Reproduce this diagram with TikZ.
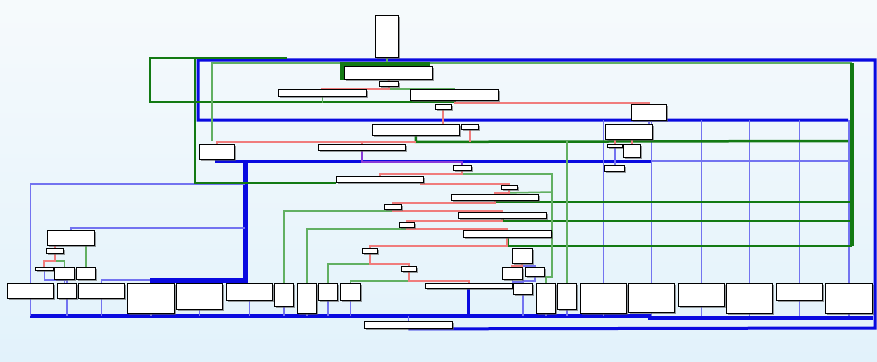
\documentclass[tikz,border=0pt]{standalone}
\usetikzlibrary{shadows}
\definecolor{dblue}{HTML}{0A0AE0}
\definecolor{lblue}{HTML}{7373F0}
\definecolor{dgreen}{HTML}{137A13}
\definecolor{lgreen}{HTML}{62B062}
\definecolor{pinkred}{HTML}{F07C7C}
\definecolor{purp}{HTML}{8A3AD8}
\definecolor{bgtop}{HTML}{F6FAFC}
\definecolor{bgbot}{HTML}{E2F2FB}
\pgfdeclarelayer{bg}
\pgfdeclarelayer{edges}
\pgfsetlayers{bg,edges,main}
\begin{document}
\begin{tikzpicture}[x=1pt,y=1pt,yscale=-1,
  blk/.style={draw=black,fill=white,line width=0.9pt,inner sep=0pt,anchor=north west,
    drop shadow={shadow xshift=2pt,shadow yshift=-2pt,fill=black!65,opacity=0.6}},
  jmp/.style={draw=dblue,line width=3pt},
  jmpthin/.style={draw=lblue,line width=1.6pt},
  yes/.style={draw=dgreen,line width=2.5pt},
  yesthin/.style={draw=lgreen,line width=1.5pt},
  no/.style={draw=pinkred,line width=2pt}]

%background
\begin{pgfonlayer}{bg}
\shade[top color=bgtop,bottom color=bgbot] (0,0) rectangle (877,361);
\end{pgfonlayer}
\useasboundingbox (0,0) rectangle (877,361);
\coordinate (bus) at (0,316);
\coordinate (top) at (0,120);

%Shape: selected block glow
\fill[dgreen] (340,62) rectangle (430,80);

%Blocks: top part
\node[blk,minimum width=23pt,minimum height=42pt] (entry) at (375,15) {};
\node[blk,minimum width=88pt,minimum height=13pt] (na) at (344,66) {};
\node[blk,minimum width=19pt,minimum height=5pt] (nb) at (379,81) {};
\node[blk,minimum width=88pt,minimum height=7pt] (nc) at (278,89) {};
\node[blk,minimum width=88pt,minimum height=11pt] (nd) at (410,89) {};
\node[blk,minimum width=16pt,minimum height=5pt] (ne) at (435,104) {};
\node[blk,minimum width=35pt,minimum height=16pt] (ra) at (631,104) {};
\node[blk,minimum width=87pt,minimum height=11pt] (b1) at (372,124) {};
\node[blk,minimum width=17pt,minimum height=5pt] (b2) at (461,124) {};
\node[blk,minimum width=47pt,minimum height=15pt] (rb) at (605,124) {};
\node[blk,minimum width=35pt,minimum height=15pt] (b3) at (199,144) {};
\node[blk,minimum width=87pt,minimum height=6pt] (b4) at (318,144) {};
\node[blk,minimum width=15pt,minimum height=3pt] (rc) at (607,144) {};
\node[blk,minimum width=17pt,minimum height=13pt] (rd) at (623,144) {};
\node[blk,minimum width=18pt,minimum height=5pt] (b5) at (453,165) {};
\node[blk,minimum width=20pt,minimum height=6pt] (re) at (604,165) {};
\node[blk,minimum width=87pt,minimum height=6pt] (b6) at (336,176) {};
\node[blk,minimum width=16pt,minimum height=4pt] (b7) at (501,185) {};
\node[blk,minimum width=87pt,minimum height=6pt] (b8) at (451,194) {};
\node[blk,minimum width=17pt,minimum height=5pt] (b9) at (384,204) {};
\node[blk,minimum width=88pt,minimum height=6pt] (b10) at (458,212) {};
\node[blk,minimum width=15pt,minimum height=5pt] (b11) at (399,222) {};
\node[blk,minimum width=88pt,minimum height=7pt] (b12) at (463,230) {};
\node[blk,minimum width=15pt,minimum height=5pt] (b13) at (362,248) {};
\node[blk,minimum width=20pt,minimum height=15pt] (b14) at (512,248) {};
\node[blk,minimum width=15pt,minimum height=5pt] (b15) at (401,266) {};
\node[blk,minimum width=20pt,minimum height=12pt] (b16) at (502,267) {};
\node[blk,minimum width=19pt,minimum height=9pt] (b17) at (525,267) {};
%Blocks: left group
\node[blk,minimum width=47pt,minimum height=15pt] (la) at (47,230) {};
\node[blk,minimum width=17pt,minimum height=5pt] (lb) at (46,248) {};
\node[blk,minimum width=18pt,minimum height=3pt] (lc) at (35,267) {};
\node[blk,minimum width=20pt,minimum height=12pt] (ld) at (54,267) {};
\node[blk,minimum width=19pt,minimum height=12pt] (le) at (76,267) {};
%Blocks: bottom row
\node[blk,minimum width=46pt,minimum height=15pt] (c1) at (7,283) {};
\node[blk,minimum width=19pt,minimum height=15pt] (c2) at (57,283) {};
\node[blk,minimum width=46pt,minimum height=15pt] (c3) at (78,283) {};
\node[blk,minimum width=47pt,minimum height=30pt] (c4) at (127,283) {};
\node[blk,minimum width=46pt,minimum height=26pt] (c5) at (176,283) {};
\node[blk,minimum width=46pt,minimum height=17pt] (c6) at (226,283) {};
\node[blk,minimum width=19pt,minimum height=23pt] (c7) at (274,283) {};
\node[blk,minimum width=19pt,minimum height=30pt] (c8) at (297,283) {};
\node[blk,minimum width=19pt,minimum height=17pt] (c9) at (318,283) {};
\node[blk,minimum width=20pt,minimum height=17pt] (c10) at (340,283) {};
\node[blk,minimum width=87pt,minimum height=5pt] (cl) at (425,283) {};
\node[blk,minimum width=19pt,minimum height=11pt] (c11) at (513,283) {};
\node[blk,minimum width=19pt,minimum height=30pt] (c12) at (536,283) {};
\node[blk,minimum width=19pt,minimum height=26pt] (c13) at (557,283) {};
\node[blk,minimum width=46pt,minimum height=30pt] (c14) at (580,283) {};
\node[blk,minimum width=46pt,minimum height=29pt] (c15) at (628,283) {};
\node[blk,minimum width=46pt,minimum height=23pt] (c16) at (678,283) {};
\node[blk,minimum width=46pt,minimum height=30pt] (c17) at (726,283) {};
\node[blk,minimum width=46pt,minimum height=17pt] (c18) at (776,283) {};
\node[blk,minimum width=47pt,minimum height=30pt] (c19) at (825,283) {};
\node[blk,minimum width=88pt,minimum height=7pt] (exit) at (364,321) {};

\begin{pgfonlayer}{edges}
%Straight Lines: unconditional jumps
\draw[jmp] (exit.south) -- (875,328) -- (875,60) -- (198,60) -- (198,120) -- (848,120);
\draw[jmp] (b3.south) |- (652,161);
\draw[jmpthin] (652,161) -- (848,161);
\draw[jmp,line width=5pt] (245,161) -- (245,280) -- (150,280);
\draw[jmpthin] (150,280) -| (c3.north);
\draw[jmpthin] (245,184) -| (c1.north);
\draw[jmpthin] (245,228) -| (la.north);
\draw[jmp,line width=3.5pt] (30,316) -- (650,316) -- (650,318) -- (873,318);
\foreach \c in {c1,c2,c3,c4,c5,c6,c7,c8,c9,c10,c11,c12,c13}
  \draw[jmpthin] (\c) -- (\c |- bus);
\foreach \c in {c14,c15,c16,c17,c18,c19}
  \draw[jmpthin] (\c |- top) -- (\c |- bus);
\draw[jmp] (cl) -- (cl |- bus);
\draw[jmpthin] (exit.north) -- (exit.north |- bus);
\draw[draw=purp,line width=2pt] (b4.south) -- ++(0,11) -| (b5.north);
\draw[jmpthin] (ra.south) -- (ra.south |- rb.north);
\draw[jmpthin] (rc.south) -- (rc.south |- re.north);
\draw[jmpthin] (b14.south) -- ++(0,2) -| (b17.north);
\draw[jmpthin] (b16.south) -- ++(0,2) -| (c11.north);
\draw[jmpthin] (b17.south) -- ++(0,4) -| (c11.north);
\draw[jmpthin] (lc.south) -- ++(0,9) -| (c2.north);
\draw[jmpthin] (ld.south) -- (ld.south |- c2.north);

%Straight Lines: taken branches
\draw[yesthin] (entry.south) -- (entry.south |- na.north);
\draw[yes] (nd.south) |- (150,102) -- (150,58) -- (287,58);
\draw[yes] (195,58) |- (b6.south west);
\draw[yesthin] (nc.south) -- ++(0,6);
\draw[yesthin] (nb.south) -- ++(0,2) -| (nd.north);
\draw[yes] (b1.south) -- ++(0,6) -- (848,141);
\draw[yesthin,line width=1.2pt] (212,141) -- (212,63) -- (852,63);
\draw[yes,line width=3.2pt] (852,63) -- (852,246);
\draw[yes] (b8.south) |- (852,202);
\draw[yes] (b10.south) |- (852,221);
\draw[yes] (b12.south) |- (852,246);
\draw[yesthin] (b5.south) -- ++(0,3) -| (552,277) -| (c12.north);
\draw[yesthin] (b7.south) -- ++(0,3) -- (552,192);
\draw[yesthin] (c13.north) -- ++(0,-142);
\draw[yesthin] (b9.south) -- ++(0,1) -| (c7.north);
\draw[yesthin] (b11.south) -- ++(0,1) -| (c8.north);
\draw[yesthin] (b13.south) -- ++(0,10) -| (c9.north);
\draw[yesthin] (b15.south) -- ++(0,9) -| (c10.north);
\draw[yesthin] (la.south -| le.north) -- (le.north);
\draw[yesthin] (lb.south) -- ++(0,7) -| (ld.north);

%Straight Lines: fall-through branches
\draw[no] (na.south) -- (nb.north);
\draw[no] (nb.south) -- ++(0,2) -| (nc.north);
\draw[no] (nd.south) ++(0,2) -| (ra.north);
\draw[no] (ne.south) -- (ne.south |- b1.north);
\draw[no] (b1.south) ++(0,6) -| (b3.north);
\draw[no] (b4.north) -- ++(0,-3);
\draw[no] (b2.south) -- ++(0,12);
\draw[no] (rc.north) -- ++(0,-5);
\draw[no] (rd.north) -- ++(0,-5);
\draw[no] (b5.south) -- ++(0,3) -| (b6.north);
\draw[no] (b6.south east) ++(-3,0) -- ++(0,1) -| (b7.north);
\draw[no] (b7.south) -- ++(0,3) -| (b8.north);
\draw[no] (b8.south) -- ++(0,2) -| (b9.north);
\draw[no] (b9.south) -- ++(0,1) -| (b10.north);
\draw[no] (b10.south) -- ++(0,2) -| (b11.north);
\draw[no] (b11.south) -- ++(0,1) -| (b12.north);
\draw[no] (b12.south) -- ++(0,8) -| (b13.north);
\draw[no] (b13.south) -- ++(0,10) -| (b15.north);
\draw[no] (b15.south) -- ++(0,9) -| (cl.north);
\draw[no] (b14.south) -- ++(0,2) -| (b16.north);
\draw[no] (la.south -| lb.north) -- (lb.north);
\draw[no] (lb.south) -- ++(0,7) -| (lc.north);
\end{pgfonlayer}
\end{tikzpicture}
\end{document}
